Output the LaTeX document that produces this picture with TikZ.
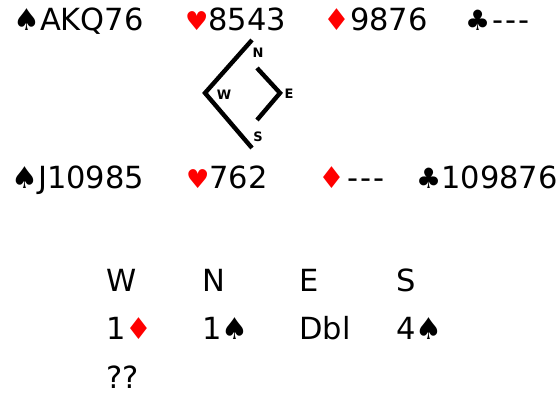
\documentclass[tikz,border=0pt]{standalone}
\usepackage{fontspec}
\setmainfont{DejaVu Sans}
\newfontfamily\suitfont{DejaVu Sans}
\usepackage{tikz}
\usetikzlibrary{positioning}
\definecolor{SuitRed}{HTML}{FF0000}
\definecolor{InkBlack}{HTML}{000000}
\newcommand{\suitS}{{\suitfont\fontsize{30}{30}\selectfont\color{InkBlack}♠}}
\newcommand{\suitH}{{\suitfont\fontsize{26}{26}\selectfont\color{SuitRed}♥}}
\newcommand{\suitD}{{\suitfont\fontsize{30}{30}\selectfont\color{SuitRed}♦}}
\newcommand{\suitC}{{\suitfont\fontsize{28}{28}\selectfont\color{InkBlack}♣}}
\newcommand{\voidsuit}{\hspace{2pt}{-}\hspace{2pt}{-}\hspace{2pt}{-}}
\tikzset{
  holding/.style={anchor=base west, inner sep=0pt, font=\fontsize{30.5}{30.5}\selectfont},
  call/.style={anchor=base west, inner sep=0pt, font=\fontsize{30.5}{30.5}\selectfont},
  seat/.style={inner sep=0pt, font=\fontsize{13}{13}\selectfont\bfseries},
  table/.style={line width=4.4pt, InkBlack}
}

\begin{document}
\begin{tikzpicture}[x=1pt,y=-1pt]
  \useasboundingbox (0,0) rectangle (558,395);
  % Top hand
  \foreach \name/\x/\txt in {topS/13/\suitS AKQ76, topH/185/\suitH 8543,
                             topD/323/\suitD 9876, topC/465/\suitC\voidsuit}
    \node[holding] (\name) at (\x,31) {\txt};
  % Bottom hand
  \foreach \name/\x/\txt in {botS/11/\suitS J10985, botH/186/\suitH 762,
                             botD/318/\suitD\voidsuit, botC/416/\suitC 109876}
    \node[holding] (\name) at (\x,189) {\txt};
  % Compass
  \coordinate (dTop) at (252,40);
  \coordinate (dWest) at (205,93);
  \coordinate (dBot) at (252,148);
  \coordinate (eTop) at (257,68);
  \coordinate (dEast) at (280,93);
  \coordinate (eBot) at (257,120);
  \draw[table] (dTop) -- (dWest) -- (dBot);
  \draw[table] (eTop) -- (dEast) -- (eBot);
  \node[seat] (lblN) at (258,53) {N};
  \node[seat] (lblW) at (224,95) {W};
  \node[seat] (lblE) at (289,94) {E};
  \node[seat] (lblS) at (258,137) {S};
  % Auction
  \foreach \name/\x/\txt in {hdW/106/W, hdN/202/N, hdE/299/E, hdS/396/S}
    \node[call] (\name) at (\x,292) {\txt};
  \foreach \name/\x/\txt in {bidW/106/1\suitD, bidN/202/1\suitS,
                             bidE/299/Dbl, bidS/396/4\suitS}
    \node[call] (\name) at (\x,340) {\txt};
  \node[call] (bidNext) at (106,389) {??};
\end{tikzpicture}
\end{document}
